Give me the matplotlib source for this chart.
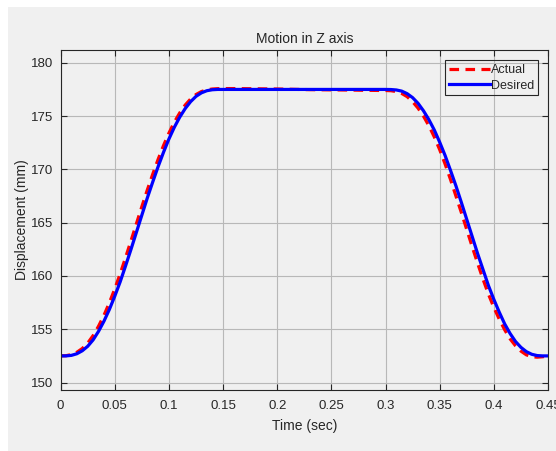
import numpy as np
import matplotlib
matplotlib.use("Agg")
from matplotlib import pyplot as plt
from matplotlib.patches import Rectangle
from matplotlib.ticker import FuncFormatter

# time samples (sec)
t = [0.000, 0.005, 0.010, 0.015, 0.020, 0.025, 0.030, 0.035, 0.040, 0.045,
     0.050, 0.055, 0.060, 0.065, 0.070, 0.075, 0.080, 0.085, 0.090, 0.095,
     0.100, 0.105, 0.110, 0.115, 0.120, 0.125, 0.130, 0.135, 0.140, 0.145,
     0.150, 0.160, 0.170, 0.180, 0.190, 0.200, 0.210, 0.220, 0.230, 0.240,
     0.250, 0.260, 0.270, 0.280, 0.290, 0.300, 0.305, 0.310, 0.315, 0.320,
     0.325, 0.330, 0.335, 0.340, 0.345, 0.350, 0.355, 0.360, 0.365, 0.370,
     0.375, 0.380, 0.385, 0.390, 0.395, 0.400, 0.405, 0.410, 0.415, 0.420,
     0.425, 0.430, 0.435, 0.440, 0.445, 0.450]

# displacement (mm)
desired = [152.5, 152.5, 152.55, 152.7, 152.98, 153.4, 154.0, 154.8, 155.75, 156.85,
           158.1, 159.45, 160.95, 162.5, 164.1, 165.7, 167.3, 168.8, 170.25, 171.6,
           172.85, 173.95, 174.9, 175.7, 176.35, 176.85, 177.18, 177.38, 177.47, 177.5,
           177.5, 177.5, 177.5, 177.5, 177.5, 177.5, 177.5, 177.5, 177.5, 177.5,
           177.5, 177.5, 177.5, 177.5, 177.5, 177.5, 177.49, 177.45, 177.34, 177.1,
           176.73, 176.2, 175.5, 174.67, 173.7, 172.55, 171.3, 169.9, 168.45, 166.9,
           165.3, 163.7, 162.1, 160.6, 159.1, 157.8, 156.6, 155.5, 154.6, 153.85,
           153.3, 152.9, 152.65, 152.53, 152.5, 152.5]

actual = [152.5, 152.52, 152.62, 152.84, 153.19, 153.7, 154.4, 155.28, 156.3, 157.48,
          158.78, 160.2, 161.73, 163.3, 164.9, 166.5, 168.05, 169.53, 170.93, 172.23,
          173.4, 174.43, 175.3, 176.03, 176.6, 177.02, 177.3, 177.46, 177.54, 177.57,
          177.58, 177.58, 177.57, 177.56, 177.55, 177.54, 177.52, 177.5, 177.48, 177.47,
          177.46, 177.45, 177.44, 177.42, 177.41, 177.4, 177.38, 177.3, 177.12, 176.82,
          176.35, 175.75, 175.0, 174.1, 173.05, 171.85, 170.5, 169.05, 167.5, 165.95,
          164.35, 162.75, 161.2, 159.7, 158.3, 157.05, 155.95, 154.95, 154.1, 153.45,
          152.95, 152.6, 152.42, 152.38, 152.42, 152.48]

xticks = [0, 0.05, 0.1, 0.15, 0.2, 0.25, 0.3, 0.35, 0.4, 0.45]
yticks = [150, 155, 160, 165, 170, 175, 180]

plt.rcParams['font.family'] = ['Liberation Sans', 'DejaVu Sans']
txt = '#262626'
bg = '#f0f0f0'

fig = plt.figure(figsize=(5.56, 4.51), dpi=100)
fig.patch.set_facecolor('white')
# grey MATLAB window area (white strip on top and left)
fig.patches.append(Rectangle((8 / 556, 0), 1, 1 - 7 / 451, transform=fig.transFigure,
                             facecolor=bg, edgecolor='none', zorder=-10))

ax = fig.add_axes([60.6 / 556, 1 - 390 / 451, (548 - 60.6) / 556, (390 - 50) / 451])
ax.set_facecolor(bg)

ax.plot(t, actual, color='red', lw=2.3, ls=(0, (3, 2)), label='Actual')
ax.plot(t, desired, color='blue', lw=2.3, label='Desired')

ax.set_xlim(0, 0.45)
ax.set_ylim(149.3, 181.2)
ax.set_xticks(xticks)
ax.set_yticks(yticks)
ax.xaxis.set_major_formatter(FuncFormatter(lambda v, p: f'{v:g}'))

ax.grid(True, color='#b8b8b8', lw=0.8)
ax.set_axisbelow(True)
for s in ax.spines.values():
    s.set_color(txt)
    s.set_linewidth(0.8)
ax.tick_params(direction='in', top=True, right=True, length=4, width=0.8,
               colors=txt, labelsize=9.5)
ax.tick_params(axis='x', pad=7)
ax.tick_params(axis='y', pad=5)

ax.set_title('Motion in Z axis', fontsize=10, color=txt, pad=5)
ax.set_xlabel('Time (sec)', fontsize=10, color=txt, labelpad=5)
ax.set_ylabel('Displacement (mm)', fontsize=10, color=txt, labelpad=2)

leg = ax.legend(loc='upper right', bbox_to_anchor=(0.98, 0.97), fontsize=9,
                handlelength=3.3, handletextpad=0.1, borderpad=0.3,
                labelspacing=0.3, borderaxespad=0, fancybox=False,
                framealpha=1, facecolor='none', edgecolor=txt)
leg.get_frame().set_linewidth(0.8)
for tx in leg.get_texts():
    tx.set_color(txt)

fig.savefig('out.png', dpi=100, facecolor=fig.get_facecolor())
